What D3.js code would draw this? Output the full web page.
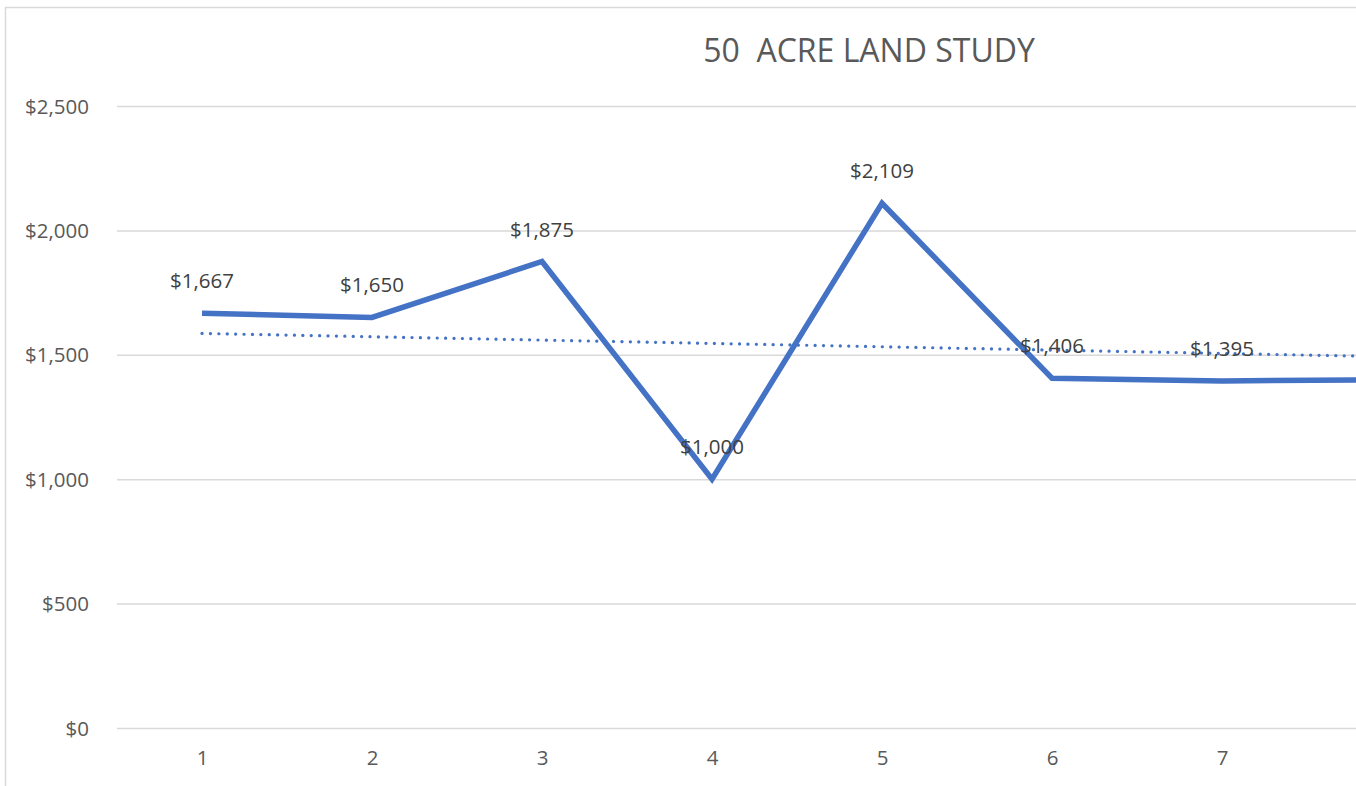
<!DOCTYPE html>
<html>
<head>
<meta charset="utf-8">
<script src="https://cdn.jsdelivr.net/npm/d3@7.9.0/dist/d3.min.js"></script>
<style>
  html, body { margin: 0; padding: 0; background: #fff; overflow: hidden; }
  svg { display: block; font-family: "Open Sans", sans-serif; }
  .axis path { display: none; }
  .axis text { fill: #595959; font-size: 20.5px; font-family: "Open Sans", sans-serif; }
</style>
</head>
<body>
<svg id="chart" width="1356" height="786"></svg>
<script>
// data
const categories = [1, 2, 3, 4, 5, 6, 7, 8];
const values = [1667, 1650, 1875, 1000, 2109, 1406, 1395, 1400];
const yTicks = [0, 500, 1000, 1500, 2000, 2500];
// linear trendline as shown: value at category 1 and change per category
const trendStart = 1586;
const trendSlope = -13.4;
const title = "50  ACRE LAND STUDY";

const W = 1356;
const svg = d3.select('#chart');
const blue = '#4472C4';

// chart frame (cropped on the right / bottom)
svg.append('path')
  .attr('d', 'M5.5,786 V7.5 H1356')
  .attr('fill', 'none')
  .attr('stroke', '#D9D9D9')
  .attr('stroke-width', 1.5);

const x = d3.scalePoint().domain(categories).range([117, 1477]).padding(0.5);
const y = d3.scaleLinear().domain([0, 2500]).range([728, 106]);

// y gridlines + labels
const yAxis = svg.append('g')
  .attr('class', 'axis')
  .attr('transform', 'translate(117,0)')
  .call(d3.axisLeft(y).tickValues(yTicks).tickFormat(d3.format('$,')).tickSize(-1360).tickPadding(28));
yAxis.attr('font-family', null).attr('font-size', null);
yAxis.selectAll('line').attr('stroke', '#D9D9D9').attr('stroke-width', 1.5);
yAxis.selectAll('text').attr('dy', '0.35em');

// x labels (only the ones inside the visible frame)
const xAxis = svg.append('g')
  .attr('class', 'axis')
  .attr('transform', 'translate(0,728)')
  .call(d3.axisBottom(x).tickValues(categories.filter(c => x(c) < W - 10)).tickSize(0).tickPadding(22));
xAxis.attr('font-family', null).attr('font-size', null);
xAxis.selectAll('text').attr('dy', '0.71em');

// trendline
const trend = categories.map(c => ({ c, v: trendStart + trendSlope * (c - 1) }));
svg.append('path')
  .datum(trend)
  .attr('fill', 'none')
  .attr('stroke', blue)
  .attr('stroke-width', 3.2)
  .attr('stroke-linecap', 'round')
  .attr('stroke-dasharray', '0.1 8.3')
  .attr('d', d3.line().x(d => x(d.c)).y(d => y(d.v)));

// main line
const pts = categories.map((c, i) => ({ c, v: values[i] }));
svg.append('path')
  .datum(pts)
  .attr('fill', 'none')
  .attr('stroke', blue)
  .attr('stroke-width', 5.5)
  .attr('stroke-linejoin', 'miter')
  .attr('d', d3.line().x(d => x(d.c)).y(d => y(d.v)));

// data labels
svg.append('g')
  .selectAll('text')
  .data(pts.filter(d => x(d.c) < W - 10))
  .join('text')
  .attr('x', d => x(d.c))
  .attr('y', d => y(d.v) - 25)
  .attr('text-anchor', 'middle')
  .attr('fill', '#404040')
  .attr('font-size', 20.5)
  .text(d => d3.format('$,')(d.v));

// title
svg.append('text')
  .attr('x', 869)
  .attr('y', 62)
  .attr('text-anchor', 'middle')
  .attr('fill', '#595959')
  .attr('font-size', 32)
  .style('white-space', 'pre')
  .text(title);
</script>
</body>
</html>
